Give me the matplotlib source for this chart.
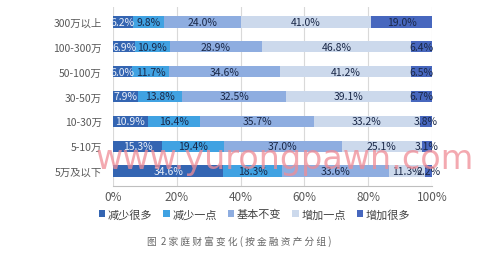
import matplotlib.pyplot as plt
import numpy as np

plt.rcParams["font.family"] = ["Noto Sans CJK SC", "DejaVu Sans"]

groups = ["300万以上", "100-300万", "50-100万", "30-50万", "10-30万", "5-10万", "5万及以下"]
series = ["减少很多", "减少一点", "基本不变", "增加一点", "增加很多"]
dec_much = [6.2, 6.9, 6.0, 7.9, 10.9, 15.3, 34.6]
dec_little = [9.8, 10.9, 11.7, 13.8, 16.4, 19.4, 18.3]
unchanged = [24.0, 28.9, 34.6, 32.5, 35.7, 37.0, 33.6]
inc_little = [41.0, 46.8, 41.2, 39.1, 33.2, 25.1, 11.3]
inc_much = [19.0, 6.4, 6.5, 6.7, 3.8, 3.1, 2.2]
xticks = [0, 20, 40, 60, 80, 100]

colors = ["#3465B2", "#40A2E2", "#8EADE0", "#CCD9EC", "#4767BE"]
text_colors = ["#E8EEF8", "#1A2848", "#1A2848", "#1A2848", "#1A2848"]

fig = plt.figure(figsize=(4.99, 2.55), dpi=100)
ax = fig.add_axes([113 / 499, 1 - 187 / 255, 319 / 499, 179 / 255])

y = np.arange(len(groups))
left = np.zeros(len(groups))
for name, vals, col, tcol in zip(series, [dec_much, dec_little, unchanged, inc_little, inc_much],
                                 colors, text_colors):
    vals = np.array(vals)
    ax.barh(y, vals, left=left, height=0.45, color=col, label=name, zorder=2)
    for yi, l, v in zip(y, left, vals):
        ax.text(l + v / 2, yi, f"{v:.1f}%", ha="center", va="center",
                fontsize=7.5, color=tcol, zorder=4)
    left += vals

ax.set_ylim(len(groups) - 0.4, -0.6)
ax.set_xlim(0, 100)
ax.set_yticks(y)
ax.set_yticklabels(groups, fontsize=7.5, color="#595959")
ax.set_xticks(xticks)
ax.set_xticklabels([f"{t}%" for t in xticks], fontsize=8.5, color="#595959")
ax.tick_params(length=0, pad=8)
ax.tick_params(axis="x", pad=3)
ax.grid(axis="x", color="#D9D9D9", linewidth=0.8, zorder=0)
for s in ["top", "right", "left"]:
    ax.spines[s].set_visible(False)
ax.spines["bottom"].set_color("#BFBFBF")

fig.legend(loc="center", bbox_to_anchor=(0.51, 1 - 215 / 255), ncol=5, frameon=False,
           fontsize=8, handlelength=0.6, handleheight=0.6, handletextpad=0.2,
           columnspacing=1.0, labelcolor="#404040")

# caption is letter-spaced in the source
fig.text(0.479, 1 - 242 / 255, " ".join("图 2家庭财富变化(按金融资产分组)").replace("   ", "  "),
         ha="center", va="center", fontsize=7, color="#666666")

fig.text(0.57, 1 - 160 / 255, "www.yurongpawn.com", ha="center", va="center",
         fontsize=24, color="#F08C96", alpha=0.75, zorder=10, family="DejaVu Sans")

fig.savefig("out.png", dpi=100)
